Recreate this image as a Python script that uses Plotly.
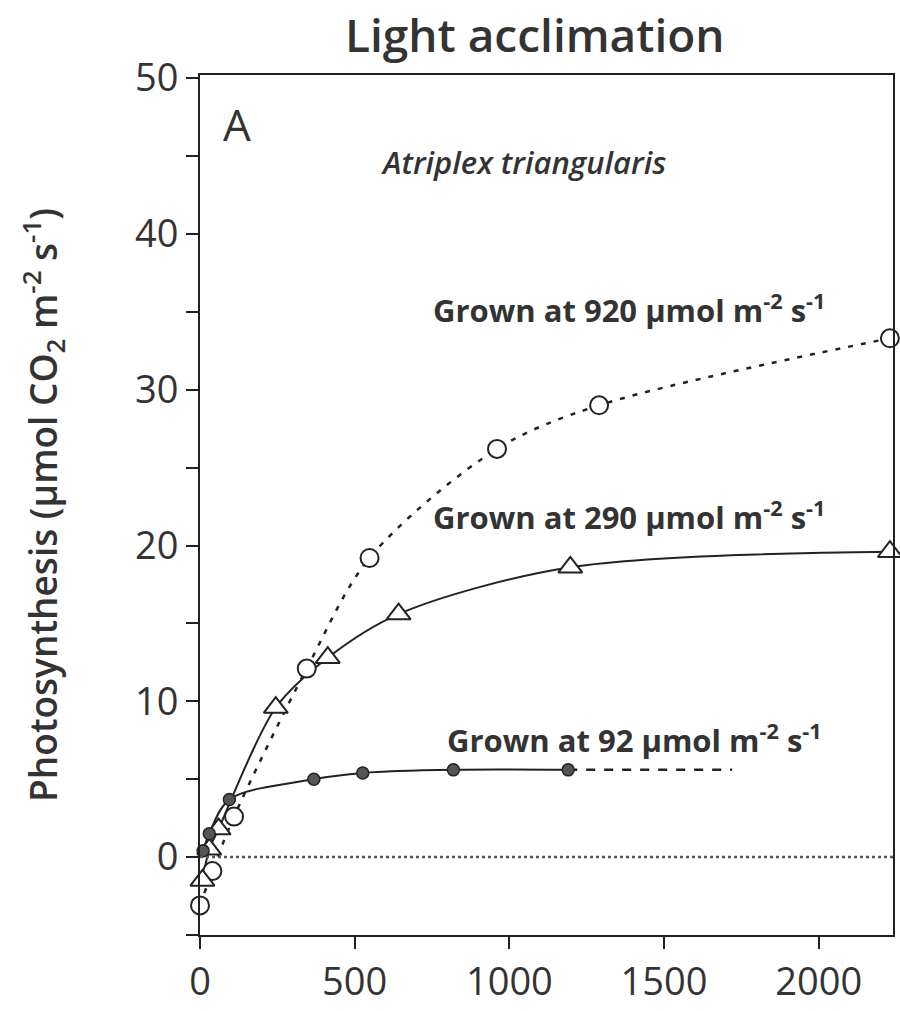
import plotly.graph_objects as go

# ---- data ----
light_920 = [0, 40, 110, 345, 548, 960, 1290, 2230]
photo_920 = [-3.1, -0.9, 2.6, 12.1, 19.2, 26.2, 29.0, 33.3]

light_290 = [8, 30, 60, 245, 413, 642, 1197, 2230]
photo_290 = [-1.5, 0.5, 1.8, 9.6, 12.8, 15.6, 18.6, 19.6]

light_92 = [10, 30, 95, 368, 526, 819, 1190]
photo_92 = [0.4, 1.5, 3.7, 5.0, 5.4, 5.6, 5.6]

ext_92_x = [1190, 1720]
ext_92_y = [5.6, 5.6]

x_ticks = [0, 500, 1000, 1500, 2000]
y_ticks = [0, 10, 20, 30, 40, 50]

INK = "#222222"
TXT = "#333333"
FONT = "Open Sans"

fig = go.Figure()

# curves
fig.add_trace(go.Scatter(x=light_920, y=photo_920, mode="lines",
                         line=dict(color=INK, width=2.5, dash="5px,8px", shape="spline", smoothing=0.9),
                         hoverinfo="skip", showlegend=False))
fig.add_trace(go.Scatter(x=light_290, y=photo_290, mode="lines",
                         line=dict(color=INK, width=2, shape="spline", smoothing=0.9),
                         hoverinfo="skip", showlegend=False))
fig.add_trace(go.Scatter(x=light_92, y=photo_92, mode="lines",
                         line=dict(color=INK, width=2, shape="spline", smoothing=0.9),
                         hoverinfo="skip", showlegend=False))
fig.add_trace(go.Scatter(x=ext_92_x, y=ext_92_y, mode="lines",
                         line=dict(color=INK, width=2.5, dash="dash"),
                         hoverinfo="skip", showlegend=False))

# markers
fig.add_trace(go.Scatter(x=light_920, y=photo_920, mode="markers", cliponaxis=False,
                         marker=dict(symbol="circle", size=18, color="white",
                                     line=dict(color=INK, width=2)),
                         name="Grown at 920", showlegend=False))
fig.add_trace(go.Scatter(x=light_290, y=photo_290, mode="markers", cliponaxis=False,
                         marker=dict(symbol="triangle-up", size=21, color="white",
                                     line=dict(color=INK, width=2)),
                         name="Grown at 290", showlegend=False))
fig.add_trace(go.Scatter(x=light_92, y=photo_92, mode="markers", cliponaxis=False,
                         marker=dict(symbol="circle", size=12, color="#555555",
                                     line=dict(color=INK, width=1.5)),
                         name="Grown at 92", showlegend=False))

fig.add_hline(y=0, line=dict(color="#555555", width=2.5, dash="dot"))

label_font = dict(family=FONT, size=31, color=TXT, weight="bold")
annotations = [
    dict(text="Light acclimation", x=0.483, y=1.0 + (75 - 34) / 860.0, xref="paper", yref="paper",
         yanchor="middle", showarrow=False,
         font=dict(family=FONT, size=46, color=TXT, weight=600)),
    dict(text="A", x=0.03, y=(935 - 124) / 860.0, xref="paper", yref="paper",
         xanchor="left", yanchor="middle", showarrow=False,
         font=dict(family=FONT, size=44, color=TXT, weight=500)),
    dict(text="<i>Atriplex triangularis</i>", x=0.467, y=(935 - 162) / 860.0, xref="paper", yref="paper",
         yanchor="middle", showarrow=False,
         font=dict(family=FONT, size=31, color=TXT, weight=600)),
    dict(text="Grown at 920 µmol m<sup>-2</sup> s<sup>-1</sup>", x=(432 - 200) / 695.0,
         y=(935 - 308) / 860.0, xref="paper", yref="paper", xanchor="left", yanchor="middle",
         showarrow=False, font=label_font),
    dict(text="Grown at 290 µmol m<sup>-2</sup> s<sup>-1</sup>", x=(432 - 200) / 695.0,
         y=(935 - 515) / 860.0, xref="paper", yref="paper", xanchor="left", yanchor="middle",
         showarrow=False, font=label_font),
    dict(text="Grown at 92 µmol m<sup>-2</sup> s<sup>-1</sup>", x=(446 - 200) / 695.0,
         y=(935 - 738) / 860.0, xref="paper", yref="paper", xanchor="left", yanchor="middle",
         showarrow=False, font=label_font),
]

fig.update_layout(
    width=900, height=1011,
    margin=dict(l=200, r=5, t=75, b=76),
    paper_bgcolor="white", plot_bgcolor="white",
    annotations=annotations,
    font=dict(family=FONT, color=TXT),
    xaxis=dict(range=[0, 2240], tickvals=x_ticks, showgrid=False, zeroline=False,
               showline=True, linecolor=INK, linewidth=2, mirror=True,
               ticks="outside", ticklen=12, tickwidth=2, tickcolor=INK,
               tickfont=dict(family=FONT, size=38, color=TXT)),
    yaxis=dict(range=[-5, 50.2], tickvals=y_ticks, showgrid=False, zeroline=False,
               showline=True, linecolor=INK, linewidth=2, mirror=True,
               ticks="outside", ticklen=12, tickwidth=2, tickcolor=INK,
               minor=dict(dtick=5, tick0=0, ticks="outside", ticklen=12, tickwidth=2, tickcolor=INK),
               tickfont=dict(family=FONT, size=38, color=TXT),
               title=dict(text="Photosynthesis (µmol CO<sub>2</sub> m<sup>-2</sup> s<sup>-1</sup>)",
                          font=dict(family=FONT, size=37, color=TXT, weight=600),
                          standoff=66)),
)

fig.write_html("out.html")
